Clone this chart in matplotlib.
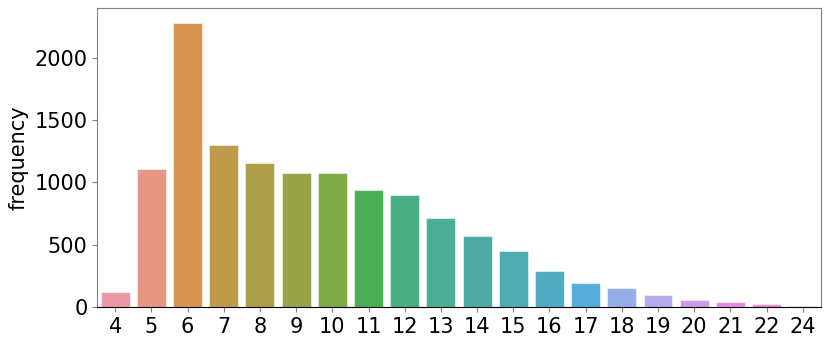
import matplotlib
matplotlib.use("Agg")
import matplotlib.pyplot as plt
import seaborn as sns

categories = ["4", "5", "6", "7", "8", "9", "10", "11", "12", "13", "14",
              "15", "16", "17", "18", "19", "20", "21", "22", "24"]
frequency = [117, 1108, 2274, 1299, 1156, 1078, 1076, 940, 900, 716, 572,
             453, 293, 197, 154, 93, 56, 40, 24, 8]

colors = [sns.desaturate(c, 0.75) for c in sns.husl_palette(len(categories), l=0.7)]

fig = plt.figure(figsize=(8.3, 3.47), dpi=100)
ax = fig.add_axes([0.117, 0.115, 0.872, 0.863])
x = range(len(categories))
ax.bar(x, frequency, width=0.8, color=colors, edgecolor=(1, 1, 1, 0.5), linewidth=0.8)
ax.set_xticks(list(x))
ax.set_xticklabels(categories)
ax.set_xlim(-0.5, len(categories) - 0.5)
ax.set_ylim(0, 2400)
ax.set_yticks([0, 500, 1000, 1500, 2000])
ax.set_ylabel("frequency", fontsize=15)
ax.tick_params(labelsize=15, color="#808080")
for s in ["left", "top", "right"]:
    ax.spines[s].set_color("#808080")
ax.spines["bottom"].set_color("black")
fig.savefig("out.png", dpi=100)
